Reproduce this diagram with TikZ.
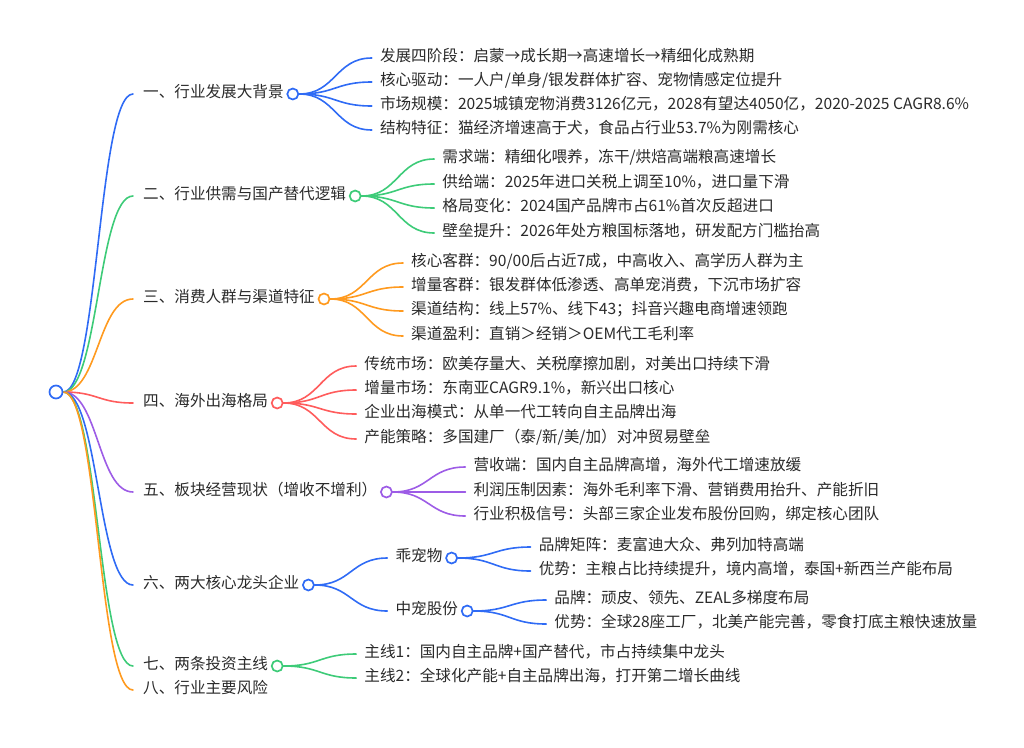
\documentclass[tikz,border=0pt]{standalone}
\usepackage{fontspec}
\setmainfont{Noto Sans CJK SC}
\usetikzlibrary{calc}
\definecolor{cblue}{HTML}{2F6BF5}
\definecolor{cgreen}{HTML}{3DCB78}
\definecolor{corange}{HTML}{FF9A1F}
\definecolor{cred}{HTML}{FF5C5C}
\definecolor{cpurple}{HTML}{9D5CE6}
\definecolor{ctext}{HTML}{2A2A2A}
\pgfdeclarelayer{bg}
\pgfsetlayers{bg,main}
\tikzset{
  lbl/.style={anchor=west, inner sep=0pt, text height=0.88em, text depth=0.12em,
    font=\fontsize{15.6}{18}\selectfont, text=ctext},
  mmdot/.style={circle, draw=#1, fill=white, line width=1.7pt, minimum size=11pt, inner sep=0pt},
  lnk/.style={draw=#1, line width=1.6pt, line cap=round},
}
\newcommand\mmlink[3]{%
  \begin{pgfonlayer}{bg}
  \draw[lnk=#1] let \p1=(#2), \p2=(#3) in
    (\p1) .. controls ({(\x1+\x2)/2},\y1) and ({(\x1+\x2)/2},\y2) .. (\p2);
  \end{pgfonlayer}}
% leaf: name, parent-dot, y, color, text
\newcommand\mmleaf[5]{%
  \path (#2) ++(87,0) coordinate (#1x);
  \node[lbl] (#1) at (#1x |- 0,#3) {#5};
  \coordinate (#1e) at ($(#1.west)+(-8,0)$);
  \mmlink{#4}{#2.east}{#1e}}
\begin{document}
\begin{tikzpicture}[x=1pt,y=-1pt]
\useasboundingbox (0,0) rectangle (1024,747);
\node[mmdot=cblue, minimum size=13pt] (root) at (56,392) {};

% level 1
\foreach \k/\yy/\cc/\tt in {
  1/94/cblue/{一、行业发展大背景},
  2/196/cgreen/{二、行业供需与国产替代逻辑},
  3/299/corange/{三、消费人群与渠道特征},
  4/403/cred/{四、海外出海格局},
  5/492/cpurple/{五、板块经营现状（增收不增利）},
  6/585/cblue/{六、两大核心龙头企业},
  7/666/cgreen/{七、两条投资主线},
  8/690/corange/{八、行业主要风险}}{
  \node[lbl] (a\k) at (143,\yy) {\tt};
  \coordinate (ae\k) at ($(a\k.west)+(-10,0)$);
  \mmlink{\cc}{root.east}{ae\k}
}
\foreach \k/\cc in {1/cblue,2/cgreen,3/corange,4/cred,5/cpurple,6/cblue,7/cgreen}{
  \node[mmdot=\cc] (c\k) at ($(a\k.east)+(9,0)$) {};
}

% branch 1
\mmleaf{b11}{c1}{58}{cblue}{发展四阶段：启蒙→成长期→高速增长→精细化成熟期}
\mmleaf{b12}{c1}{82}{cblue}{核心驱动：一人户/单身/银发群体扩容、宠物情感定位提升}
\mmleaf{b13}{c1}{106}{cblue}{市场规模：2025城镇宠物消费3126亿元，2028有望达4050亿，2020-2025 CAGR8.6\%}
\mmleaf{b14}{c1}{130}{cblue}{结构特征：猫经济增速高于犬，食品占行业53.7\%为刚需核心}
% branch 2
\mmleaf{b21}{c2}{159}{cgreen}{需求端：精细化喂养，冻干/烘焙高端粮高速增长}
\mmleaf{b22}{c2}{184}{cgreen}{供给端：2025年进口关税上调至10\%，进口量下滑}
\mmleaf{b23}{c2}{208}{cgreen}{格局变化：2024国产品牌市占61\%首次反超进口}
\mmleaf{b24}{c2}{233}{cgreen}{壁垒提升：2026年处方粮国标落地，研发配方门槛抬高}
% branch 3
\mmleaf{b31}{c3}{263}{corange}{核心客群：90/00后占近7成，中高收入、高学历人群为主}
\mmleaf{b32}{c3}{287}{corange}{增量客群：银发群体低渗透、高单宠消费，下沉市场扩容}
\mmleaf{b33}{c3}{311}{corange}{渠道结构：线上57\%、线下43；抖音兴趣电商增速领跑}
\mmleaf{b34}{c3}{336}{corange}{渠道盈利：直销＞经销＞OEM代工毛利率}
% branch 4
\mmleaf{b41}{c4}{366}{cred}{传统市场：欧美存量大、关税摩擦加剧，对美出口持续下滑}
\mmleaf{b42}{c4}{390}{cred}{增量市场：东南亚CAGR9.1\%，新兴出口核心}
\mmleaf{b43}{c4}{414}{cred}{企业出海模式：从单一代工转向自主品牌出海}
\mmleaf{b44}{c4}{439}{cred}{产能策略：多国建厂（泰/新/美/加）对冲贸易壁垒}
% branch 5
\mmleaf{b51}{c5}{467}{cpurple}{营收端：国内自主品牌高增，海外代工增速放缓}
\mmleaf{b52}{c5}{492}{cpurple}{利润压制因素：海外毛利率下滑、营销费用抬升、产能折旧}
\mmleaf{b53}{c5}{516}{cpurple}{行业积极信号：头部三家企业发布股份回购，绑定核心团队}
% branch 6
\mmleaf{b61}{c6}{558}{cblue}{乖宠物}
\mmleaf{b62}{c6}{611}{cblue}{中宠股份}
\node[mmdot=cblue] (d61) at ($(b61.east)+(9,0)$) {};
\node[mmdot=cblue] (d62) at ($(b62.east)+(9,0)$) {};
\mmleaf{b611}{d61}{547}{cblue}{品牌矩阵：麦富迪大众、弗列加特高端}
\mmleaf{b612}{d61}{571}{cblue}{优势：主粮占比持续提升，境内高增，泰国+新西兰产能布局}
\mmleaf{b621}{d62}{600}{cblue}{品牌：顽皮、领先、ZEAL多梯度布局}
\mmleaf{b622}{d62}{624}{cblue}{优势：全球28座工厂，北美产能完善，零食打底主粮快速放量}
% branch 7
\mmleaf{b71}{c7}{654}{cgreen}{主线1：国内自主品牌+国产替代，市占持续集中龙头}
\mmleaf{b72}{c7}{678}{cgreen}{主线2：全球化产能+自主品牌出海，打开第二增长曲线}
\end{tikzpicture}
\end{document}
